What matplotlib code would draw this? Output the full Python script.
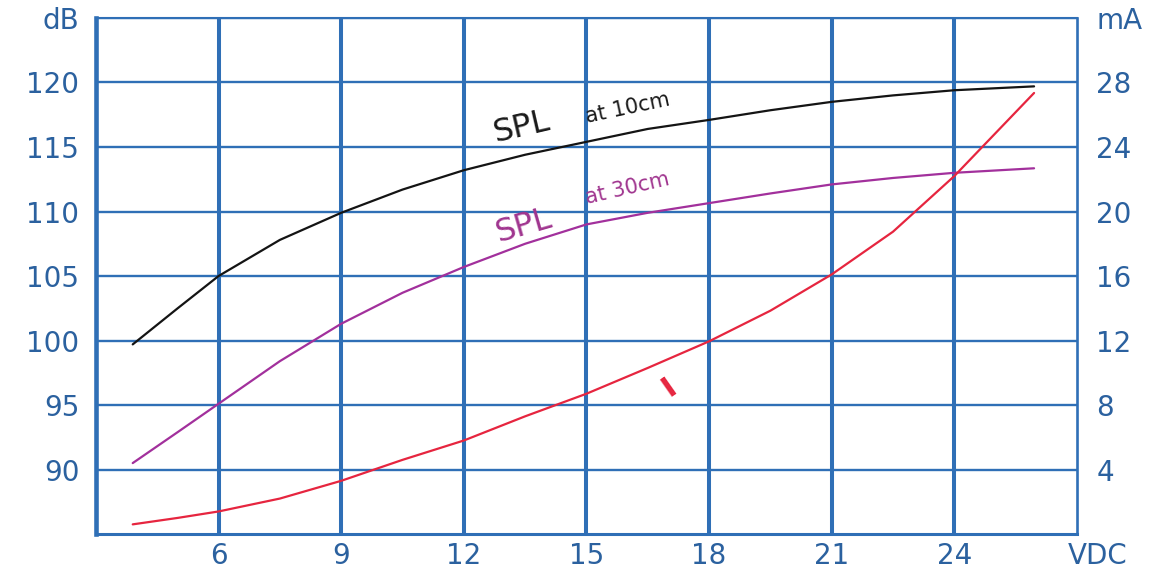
import matplotlib
matplotlib.use("Agg")
import matplotlib.pyplot as plt

# values
volts = [3.9, 5.0, 6.0, 7.5, 9.0, 10.5, 12.0, 13.5, 15.0, 16.5, 18.0, 19.5, 21.0, 22.5, 24.0, 25.95]
spl_10cm = [99.7, 102.5, 105.0, 107.8, 109.9, 111.7, 113.2, 114.4, 115.4, 116.4, 117.1, 117.85,
            118.5, 119.0, 119.4, 119.7]
spl_30cm = [90.5, 92.9, 95.1, 98.4, 101.3, 103.7, 105.7, 107.5, 109.0, 109.9, 110.65, 111.4,
            112.1, 112.6, 113.0, 113.35]
current_ma = [0.6, 1.0, 1.4, 2.2, 3.3, 4.6, 5.8, 7.3, 8.7, 10.3, 11.95, 13.85, 16.1, 18.75,
              22.2, 27.35]

x_ticks = [6, 9, 12, 15, 18, 21, 24]
db_ticks = [90, 95, 100, 105, 110, 115, 120, 125]
db_labels = ["90", "95", "100", "105", "110", "115", "120", "dB"]
ma_ticks = [4, 8, 12, 16, 20, 24, 28, 32]
ma_labels = ["4", "8", "12", "16", "20", "24", "28", "mA"]

GRID = "#2f6fb6"
LABEL = "#2b619f"
FS = 20

fig = plt.figure(figsize=(11.7, 5.73), dpi=100)
ax = fig.add_axes([0.082, 0.068, 0.8385, 0.9006])
ax2 = ax.twinx()

ax.set_xlim(3, 27)
ax.set_ylim(85, 125)
ax2.set_ylim(0, 32)

ax.set_xticks(x_ticks)
ax.set_yticks(db_ticks)
ax.set_yticklabels(db_labels)
ax2.set_yticks(ma_ticks)
ax2.set_yticklabels(ma_labels)

ax.xaxis.grid(True, color=GRID, lw=2.9)
ax.yaxis.grid(True, color=GRID, lw=1.7)
ax.set_axisbelow(True)

ax.tick_params(axis="x", length=0, pad=6, labelsize=FS, labelcolor=LABEL)
ax.tick_params(axis="y", length=0, pad=12, labelsize=FS, labelcolor=LABEL)
ax2.tick_params(axis="y", length=0, pad=14, labelsize=FS, labelcolor=LABEL)

for sp in ax2.spines.values():
    sp.set_visible(False)
for name, lw in [("left", 3.3), ("bottom", 2.2), ("right", 1.9), ("top", 1.5)]:
    ax.spines[name].set_color(GRID)
    ax.spines[name].set_linewidth(lw)

ax.plot(volts, spl_10cm, color="#141414", lw=1.6, solid_capstyle="round")
ax.plot(volts, spl_30cm, color="#a2309c", lw=1.6, solid_capstyle="round")
ax2.plot(volts, current_ma, color="#e6253f", lw=1.6, solid_capstyle="round")

ax.annotate("VDC", xy=(27.5, 0), xycoords=ax.get_xaxis_transform(),
            xytext=(0, -6), textcoords="offset points", ha="center", va="top",
            fontsize=FS, color=LABEL, annotation_clip=False)

ax.text(13.42, 116.5, "SPL", ha="center", va="center", rotation=13, fontsize=23,
        color="#1a1a1a")
ax.text(16.0, 118.0, "at 10cm", ha="center", va="center", rotation=12, fontsize=15,
        color="#1a1a1a")
ax.text(13.47, 108.9, "SPL", ha="center", va="center", rotation=16, fontsize=23,
        color="#a0358f")
ax.text(16.0, 111.8, "at 30cm", ha="center", va="center", rotation=13, fontsize=15,
        color="#a0358f")
ax2.text(17.02, 9.1, "I", ha="center", va="center", rotation=35, fontsize=21,
         fontweight="bold", color="#e6253f")

fig.savefig("out.png", dpi=100, facecolor="white")
